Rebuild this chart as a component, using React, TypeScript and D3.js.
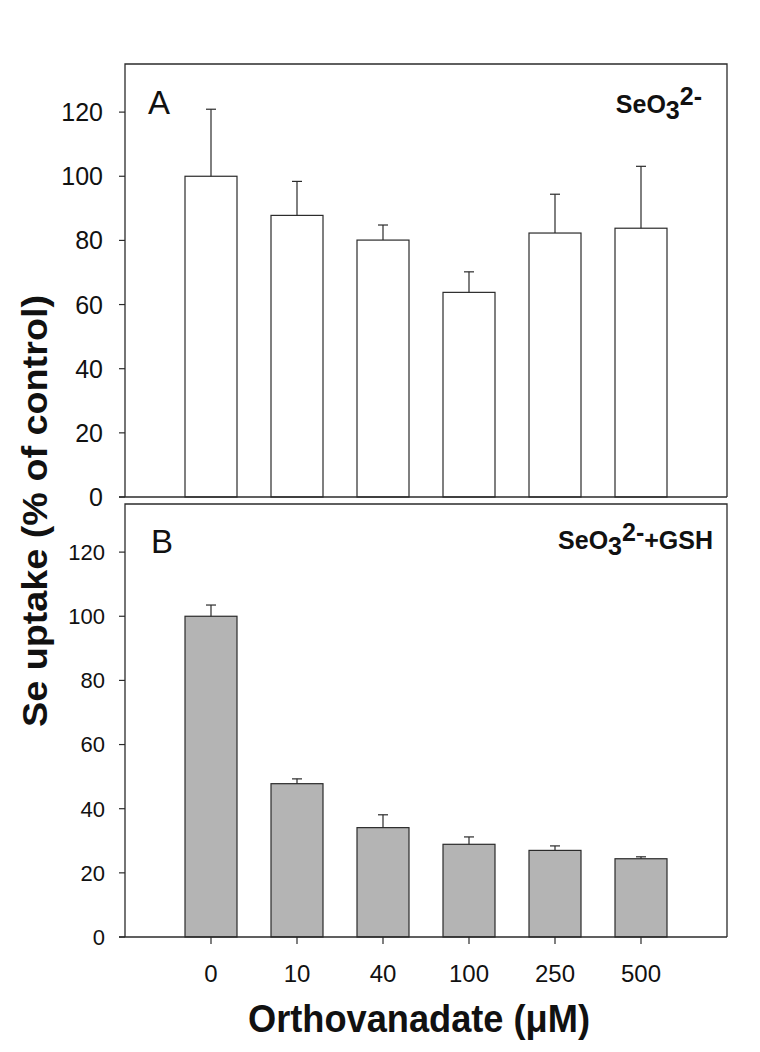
import * as d3 from 'd3';

const categories = ['0', '10', '40', '100', '250', '500'];
const seleniteMeans = [100, 87.8, 80.1, 63.8, 82.3, 83.8];
const seleniteErrors = [20.9, 10.6, 4.7, 6.4, 12.1, 19.3];
const gshMeans = [100, 47.8, 34.1, 28.9, 27.0, 24.4];
const gshErrors = [3.5, 1.5, 4.0, 2.3, 1.4, 0.6];
const yTicks = [0, 20, 40, 60, 80, 100, 120];

const W = 760;
const H = 1052;
const left = 125;
const right = 727;
const FONT = '"Liberation Sans", Arial, sans-serif';
const INK = '#2b2b2b';

// slots 0..7, bars sit on 1..6 (empty slot each side like the original)
const x = d3.scaleLinear().domain([0, 7]).range([left, right]);
const barW = 52;

interface PanelProps {
  top: number;
  bottom: number;
  means: number[];
  errors: number[];
  fill: string;
  letter: string;
  tickSize: number;
  tickGap: number;
  showX: boolean;
  gsh: boolean;
}

function Panel({ top, bottom, means, errors, fill, letter, tickSize, tickGap, showX, gsh }: PanelProps) {
  const y = d3.scaleLinear().domain([0, 135]).range([bottom, top]);
  return (
    <g>
      {/* frame: top, right, left */}
      <path
        d={`M${left},${bottom} V${top} H${right} V${bottom}`}
        fill="none"
        stroke={INK}
        strokeWidth={1.3}
      />
      {means.map((m, i) => {
        const cx = x(i + 1);
        const yTop = y(m);
        const yErr = y(m + errors[i]);
        return (
          <g key={i}>
            <rect
              x={cx - barW / 2}
              y={yTop}
              width={barW}
              height={y(0) - yTop}
              fill={fill}
              stroke={INK}
              strokeWidth={1.2}
            />
            <line x1={cx} x2={cx} y1={yTop} y2={yErr} stroke={INK} strokeWidth={1.2} />
            <line x1={cx - 5} x2={cx + 5} y1={yErr} y2={yErr} stroke={INK} strokeWidth={1.2} />
          </g>
        );
      })}
      {/* baseline */}
      <line x1={left - 6} x2={right} y1={y(0)} y2={y(0)} stroke={INK} strokeWidth={1.3} />
      {yTicks.map((t) => (
        <g key={t}>
          <line x1={left - 6} x2={left} y1={y(t)} y2={y(t)} stroke={INK} strokeWidth={1.2} />
          <text
            x={left - tickGap}
            y={y(t)}
            dy="0.36em"
            textAnchor="end"
            fontSize={tickSize}
            fontFamily={FONT}
            fill="#111"
          >
            {t}
          </text>
        </g>
      ))}
      {showX &&
        categories.map((c, i) => (
          <g key={c}>
            <line x1={x(i + 1)} x2={x(i + 1)} y1={y(0)} y2={y(0) + 7} stroke={INK} strokeWidth={1.2} />
            <text
              x={x(i + 1)}
              y={y(0) + 36}
              dy="0.36em"
              textAnchor="middle"
              fontSize={24}
              fontFamily={FONT}
              fill="#111"
            >
              {c}
            </text>
          </g>
        ))}
      <text x={gsh ? 151 : 148} y={top + (gsh ? 49 : 50)} fontSize={33} fontFamily={FONT} fill="#111">
        {letter}
      </text>
      <text
        x={gsh ? 713 : 702}
        y={top + (gsh ? 45 : 49)}
        textAnchor="end"
        fontSize={25}
        fontWeight="bold"
        fontFamily={FONT}
        fill="#111"
      >
        SeO
        <tspan dy={6}>3</tspan>
        <tspan dy={-14}>2-</tspan>
        {gsh && <tspan dy={8}>+GSH</tspan>}
      </text>
    </g>
  );
}

export default function App() {
  return (
    <svg
      width={W}
      height={H}
      style={{ position: 'absolute', left: 0, top: 0, background: '#fff' }}
    >
      <rect width={W} height={H} fill="#fff" />
      <Panel
        top={64}
        bottom={497}
        means={seleniteMeans}
        errors={seleniteErrors}
        fill="#ffffff"
        letter="A"
        tickSize={25}
        tickGap={22}
        showX={false}
        gsh={false}
      />
      <Panel
        top={504}
        bottom={937}
        means={gshMeans}
        errors={gshErrors}
        fill="#b4b4b4"
        letter="B"
        tickSize={22}
        tickGap={20}
        showX={true}
        gsh={true}
      />
      <text
        transform="translate(47,511) rotate(-90)"
        textAnchor="middle"
        fontSize={35}
        fontWeight="bold"
        fontFamily={FONT}
        fill="#111"
        textLength={432}
        lengthAdjust="spacingAndGlyphs"
      >
        Se uptake (% of control)
      </text>
      <text
        x={419}
        y={1032}
        textAnchor="middle"
        fontSize={38}
        fontWeight="bold"
        fontFamily={FONT}
        fill="#111"
        textLength={342}
        lengthAdjust="spacingAndGlyphs"
      >
        Orthovanadate (μM)
      </text>
    </svg>
  );
}
